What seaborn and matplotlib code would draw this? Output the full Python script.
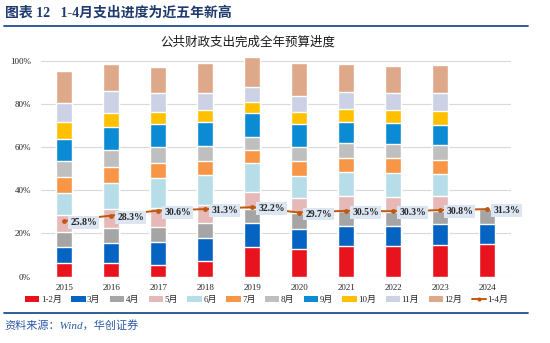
import numpy as np
import pandas as pd
import matplotlib
matplotlib.use("Agg")
import matplotlib.pyplot as plt
from matplotlib.patches import Patch
from matplotlib.lines import Line2D
import seaborn as sns

years = ["2015", "2016", "2017", "2018", "2019", "2020", "2021", "2022", "2023", "2024"]
months = ["1-2月", "3月", "4月", "5月", "6月", "7月", "8月", "9月", "10月", "11月", "12月"]
nan = np.nan
m_1_2 = [6.2, 6.2, 5.4, 7.4, 13.9, 12.8, 14.2, 14.2, 14.7, 15.3]
m_3 = [7.7, 9.2, 10.8, 10.7, 11.1, 9.3, 9.3, 9.4, 9.5, 9.2]
m_4 = [6.9, 7.1, 6.9, 6.9, 6.3, 7.4, 7.0, 6.4, 6.3, 6.8]
m_5 = [7.6, 8.7, 8.8, 8.2, 8.1, 6.8, 6.8, 6.7, 6.8, nan]
m_6 = [10.5, 12.3, 13.9, 13.7, 13.1, 10.5, 11.2, 11.3, 10.2, nan]
m_7 = [7.4, 7.1, 6.7, 6.6, 6.1, 6.7, 6.6, 6.8, 6.5, nan]
m_8 = [7.2, 8.0, 7.7, 7.1, 6.2, 6.7, 6.6, 6.6, 7.0, nan]
m_9 = [10.4, 10.8, 10.5, 11.0, 11.1, 10.3, 10.1, 9.9, 9.4, nan]
m_10 = [7.7, 6.5, 5.7, 5.6, 5.1, 5.7, 5.7, 5.9, 6.5, nan]
m_11 = [9.0, 10.1, 8.5, 8.0, 6.7, 7.4, 7.8, 7.7, 8.0, nan]
m_12 = [14.8, 12.3, 12.3, 13.9, 13.8, 15.5, 13.2, 12.8, 13.2, nan]
progress_1_4 = [25.8, 28.3, 30.6, 31.3, 32.2, 29.7, 30.5, 30.3, 30.8, 31.3]

series = [m_1_2, m_3, m_4, m_5, m_6, m_7, m_8, m_9, m_10, m_11, m_12]
colors = ["#E8131C", "#0563C1", "#A5A5A5", "#E6B9B8", "#B7DEE8", "#F79646",
          "#BFBFBF", "#0B8BD3", "#FFC000", "#CCD1E6", "#DEA98A"]
line_color = "#C0590F"

sns.set_theme(style="white")
serif_cjk = ["Liberation Serif", "Noto Sans CJK SC"]
plt.rcParams["font.family"] = serif_cjk
plt.rcParams["axes.unicode_minus"] = False

fig = plt.figure(figsize=(5.5, 3.43), dpi=100)
ax = fig.add_axes([0.074, 0.1933, 0.8545, 0.6612])

vals = np.array(series, dtype=float)
cum = np.cumsum(vals, axis=0)
for i in range(len(months) - 1, -1, -1):
    df = pd.DataFrame({"year": years, "value": cum[i]})
    sns.barplot(data=df, x="year", y="value", order=years, color=colors[i],
                width=0.33, saturation=1, ax=ax, errorbar=None, zorder=2)

dfl = pd.DataFrame({"x": np.arange(len(years)), "y": progress_1_4})
sns.lineplot(data=dfl, x="x", y="y", ax=ax, color=line_color, lw=1.4,
             marker="o", markersize=3.5, markeredgewidth=0, zorder=4)
for xi, yi in zip(range(len(years)), progress_1_4):
    ax.annotate(f"{yi:.1f}%", (xi, yi), xytext=(6, -1.5), textcoords="offset pixels",
                ha="left", va="center", fontsize=7, fontweight="bold", color="#262626",
                family="Liberation Serif", zorder=5,
                bbox=dict(boxstyle="square,pad=0.2", fc="#DCE6F2", ec="none"))

ax.set_xlim(-0.5, 9.5)
ax.set_ylim(0, 105)
ax.set_yticks([0, 20, 40, 60, 80, 100])
ax.set_yticklabels([f"{v}%" for v in [0, 20, 40, 60, 80, 100]])
ax.yaxis.grid(True, color="#D9D9D9", lw=0.8, zorder=0)
ax.set_axisbelow(True)
ax.set_xlabel("")
ax.set_ylabel("")
for s in ax.spines.values():
    s.set_visible(False)
ax.tick_params(axis="both", length=0, labelsize=6.5, colors="#262626")
ax.tick_params(axis="y", pad=7)
ax.tick_params(axis="x", pad=5)
for lab in ax.get_xticklabels() + ax.get_yticklabels():
    lab.set_family("Liberation Serif")

handles = [Patch(facecolor=c, edgecolor="none") for c in colors]
handles.append(Line2D([0], [0], color=line_color, lw=1.4, marker="o", markersize=3, markeredgewidth=0))
fig.legend(handles, months + ["1-4月"], loc="center", bbox_to_anchor=(0.485, 0.125),
           ncol=12, frameon=False, fontsize=6.5, handlelength=1.6, handleheight=0.5,
           handletextpad=0.15, columnspacing=1.05, borderaxespad=0)

fig.text(0.009, 0.962, "图表 12   1-4月支出进度为近五年新高", fontsize=10, fontweight="bold",
         color="#1F3B70", ha="left", va="center", family=serif_cjk)
fig.add_artist(Line2D([0.008, 0.96], [0.925, 0.925], color="#1F4E8F", lw=1.3,
                      transform=fig.transFigure))
fig.text(0.45, 0.877, "公共财政支出完成全年预算进度", fontsize=9, color="#1a1a1a",
         ha="center", va="center", family=serif_cjk)
fig.add_artist(Line2D([0.008, 0.96], [0.087, 0.087], color="#1F4E8F", lw=1.3,
                      transform=fig.transFigure))
fig.text(0.009, 0.052, "资料来源：Wind，华创证券", fontsize=8, color="#2E5AA8",
         style="italic", ha="left", va="center", family=serif_cjk)

fig.savefig("out.png", dpi=100)
